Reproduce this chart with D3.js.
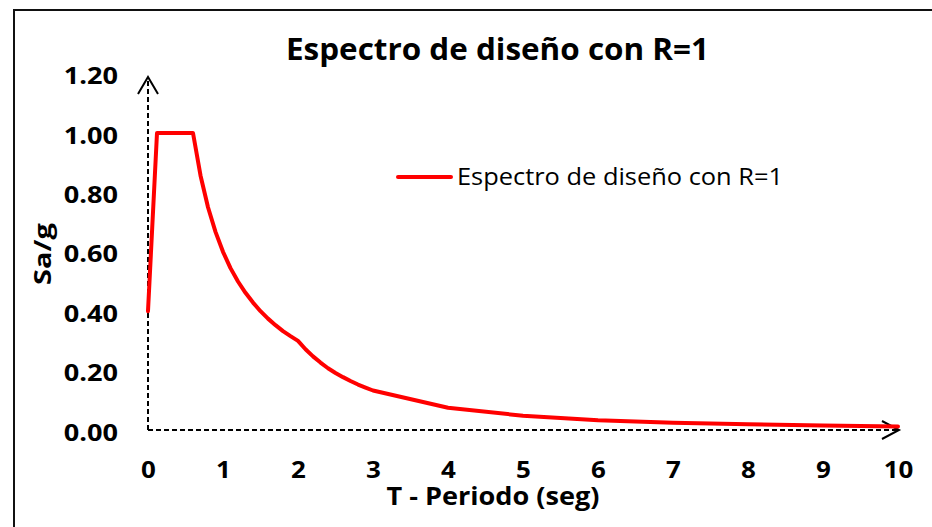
<!DOCTYPE html>
<html>
<head>
<meta charset="utf-8">
<script src="https://cdn.jsdelivr.net/npm/d3@7"></script>
<style>
  html, body { margin: 0; padding: 0; background: #fff; }
  svg { display: block; }
</style>
</head>
<body>
<svg id="chart" width="932" height="527"></svg>
<script>
// ---- data ----
const periods = [0, 0.12, 0.6, 0.7, 0.8, 0.9, 1.0, 1.1, 1.2, 1.3, 1.4, 1.5, 1.6, 1.7, 1.8, 1.9, 2.0,
                 2.1, 2.2, 2.3, 2.4, 2.5, 2.6, 2.7, 2.8, 2.9, 3.0, 4, 5, 6, 7, 8, 9, 10];
const saValues = [0.40, 1.00, 1.00, 0.857, 0.750, 0.667, 0.600, 0.545, 0.500, 0.462, 0.429, 0.400, 0.375, 0.353, 0.333, 0.316, 0.300,
                  0.272, 0.248, 0.227, 0.208, 0.192, 0.178, 0.165, 0.153, 0.143, 0.133, 0.075, 0.048, 0.033, 0.024, 0.019, 0.015, 0.012];
const xTicks = [0, 1, 2, 3, 4, 5, 6, 7, 8, 9, 10];
const yTicks = [0, 0.2, 0.4, 0.6, 0.8, 1.0, 1.2];
const titleText = "Espectro de diseño con R=1";
const seriesName = "Espectro de diseño con R=1";
const xTitle = "T - Periodo (seg)";
const yTitle = "Sa/g";

const FONT = "'Open Sans', 'Noto Sans', sans-serif";
const svg = d3.select("#chart");
svg.append("rect").attr("width", 932).attr("height", 527).attr("fill", "#fff");

// outer border (only top and left visible)
svg.append("path").attr("d", "M14,527 V10 H932")
  .attr("fill", "none").attr("stroke", "#111").attr("stroke-width", 2);

const x = d3.scaleLinear().domain([0, 10]).range([148, 898]);
const y = d3.scaleLinear().domain([0, 1.2]).range([430, 430 - 1.2 * 297]);

function stretch(sel, factor) {
  sel.each(function () {
    const w = this.getComputedTextLength();
    this.setAttribute("textLength", w * factor);
    this.setAttribute("lengthAdjust", "spacingAndGlyphs");
  });
}
function fitTo(sel, width) {
  sel.attr("textLength", width).attr("lengthAdjust", "spacingAndGlyphs");
}

// y axis ticks
const gy = svg.append("g").attr("transform", `translate(${x(0)},0)`)
  .call(d3.axisLeft(y).tickValues(yTicks).tickSize(0).tickPadding(30).tickFormat(d3.format(".2f")));
gy.select(".domain").remove();
gy.selectAll("text").attr("font-family", FONT).attr("font-weight", "bold")
  .attr("font-size", 24).attr("fill", "#000").attr("dy", "0.42em");
stretch(gy.selectAll("text"), 1.13);

// x axis ticks
const gx = svg.append("g").attr("transform", `translate(0,${y(0)})`)
  .call(d3.axisBottom(x).tickValues(xTicks).tickSize(0).tickPadding(31).tickFormat(d3.format("d")));
gx.select(".domain").remove();
gx.selectAll("text").attr("font-family", FONT).attr("font-weight", "bold")
  .attr("font-size", 24).attr("fill", "#000");
stretch(gx.selectAll("text"), 1.08);

// dashed axes with arrows
const axisG = svg.append("g").attr("stroke", "#000").attr("fill", "none");
axisG.append("line").attr("x1", x(0)).attr("y1", y(0)).attr("x2", x(0)).attr("y2", 78)
  .attr("stroke-width", 2).attr("stroke-dasharray", "5,3");
axisG.append("line").attr("x1", x(0)).attr("y1", y(0)).attr("x2", x(10) + 1).attr("y2", y(0))
  .attr("stroke-width", 2).attr("stroke-dasharray", "5,3");
axisG.append("path").attr("d", `M${x(0) - 10},94 L${x(0)},77 L${x(0) + 10},94`).attr("stroke-width", 2);
axisG.append("path").attr("d", `M${x(10) - 16},${y(0) - 9} L${x(10) + 1},${y(0)} L${x(10) - 16},${y(0) + 9}`).attr("stroke-width", 2);

// series line
const data = periods.map((t, i) => ({ t, v: saValues[i] }));
svg.append("path").datum(data)
  .attr("fill", "none").attr("stroke", "#FF0000").attr("stroke-width", 4)
  .attr("stroke-linejoin", "round").attr("stroke-linecap", "round")
  .attr("d", d3.line().x(d => x(d.t)).y(d => y(d.v)));

// title
svg.append("text").attr("x", 497.5).attr("y", 60).attr("text-anchor", "middle")
  .attr("font-family", FONT).attr("font-weight", "bold").attr("font-size", 31)
  .attr("fill", "#000").text(titleText).call(fitTo, 423);

// legend
svg.append("line").attr("x1", 398).attr("x2", 451).attr("y1", 177).attr("y2", 177)
  .attr("stroke", "#FF0000").attr("stroke-width", 4).attr("stroke-linecap", "round");
svg.append("text").attr("x", 457).attr("y", 185)
  .attr("font-family", FONT).attr("font-size", 24).attr("fill", "#000")
  .text(seriesName).call(fitTo, 326);

// axis titles
svg.append("text").attr("x", 493).attr("y", 505).attr("text-anchor", "middle")
  .attr("font-family", FONT).attr("font-weight", "bold").attr("font-size", 25)
  .attr("fill", "#000").text(xTitle).call(fitTo, 213);
svg.append("text").attr("transform", "translate(51,254) rotate(-90)").attr("text-anchor", "middle")
  .attr("font-family", FONT).attr("font-weight", "bold").attr("font-size", 24)
  .attr("fill", "#000").text(yTitle).call(fitTo, 62);
</script>
</body>
</html>
